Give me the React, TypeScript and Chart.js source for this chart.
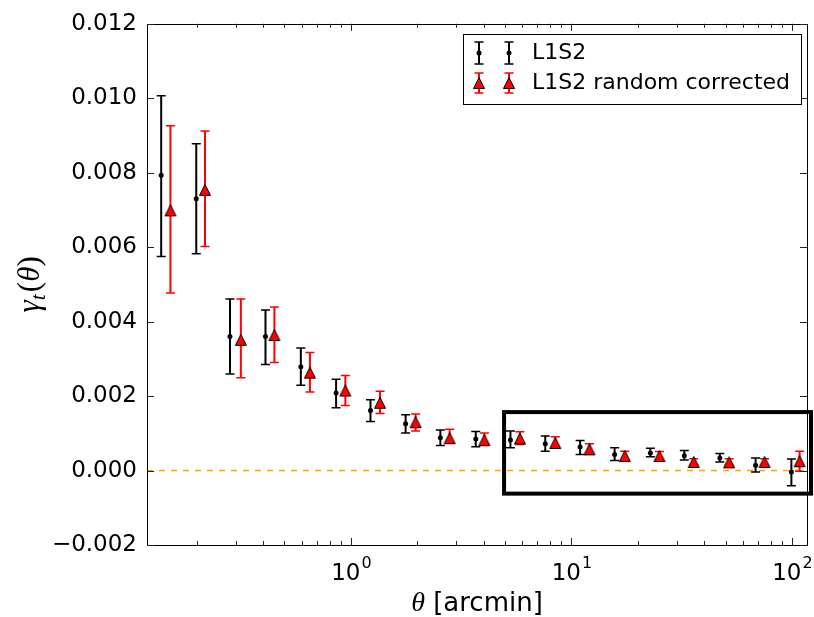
import React, { useEffect, useRef } from "react";
import { Chart, registerables } from "chart.js";
Chart.register(...registerables);

// L1S2 (black)
const blackTheta = [0.138, 0.199, 0.283, 0.41, 0.593, 0.857, 1.227, 1.771, 2.545, 3.683, 5.29, 7.61, 10.95, 15.7, 22.8, 32.5, 47.1, 68.4, 99.4];
const blackGamma = [0.00793, 0.0073, 0.0036, 0.0036, 0.00279, 0.00208, 0.00161, 0.00126, 0.00088, 0.00085, 0.00082, 0.00072, 0.00063, 0.00043, 0.00047, 0.0004, 0.00034, 0.00014, -0.00004];
const blackHigh = [0.01007, 0.00878, 0.00461, 0.00431, 0.00329, 0.00245, 0.0019, 0.0015, 0.00109, 0.00105, 0.00106, 0.00093, 0.00081, 0.00061, 0.0006, 0.00054, 0.00046, 0.00034, 0.00031];
const blackLow = [0.00575, 0.00582, 0.00259, 0.00285, 0.00229, 0.00169, 0.00132, 0.00101, 0.00067, 0.00064, 0.00061, 0.00052, 0.00043, 0.00027, 0.00037, 0.00028, 0.00023, -0.00004, -0.00041];

// L1S2 random corrected (red)
const redTheta = [0.152, 0.218, 0.317, 0.45, 0.652, 0.944, 1.356, 1.965, 2.804, 4.03, 5.84, 8.45, 12.07, 17.46, 25.08, 35.85, 51.9, 75.1, 108.3];
const redGamma = [0.00699, 0.00754, 0.00351, 0.00364, 0.00263, 0.00215, 0.00182, 0.0013, 0.00087, 0.00082, 0.00086, 0.00074, 0.00057, 0.00039, 0.00039, 0.00023, 0.00022, 0.00023, 0.00025];
const redHigh = [0.00926, 0.00912, 0.00461, 0.00439, 0.00317, 0.00255, 0.00213, 0.00152, 0.00111, 0.00101, 0.00104, 0.00091, 0.00072, 0.00052, 0.00051, 0.00032, 0.00032, 0.00032, 0.00052];
const redLow = [0.00477, 0.00602, 0.00249, 0.0029, 0.00211, 0.00175, 0.00153, 0.00106, 0.00073, 0.00067, 0.0007, 0.00061, 0.00045, 0.00029, 0.00029, 0.00014, 0.00014, 0.00014, -0.00002];

const seriesNames = ["L1S2", "L1S2 random corrected"];
const xRange = [0.119, 117];
const yRange = [-0.002, 0.012];
const yStep = 0.002;
const xMajorTicks = [1, 10, 100];
const xMajorExponents = ["0", "1", "2"];
const boxX = [4.95, 122];
const boxY = [-0.00062, 0.00157];
const zeroLine = 0;

const SANS = "'DejaVu Sans', sans-serif";
const SERIF = "'Liberation Serif', 'DejaVu Serif', serif";

function makeTriangle(): HTMLCanvasElement {
  const c = document.createElement("canvas");
  c.width = 14;
  c.height = 14;
  const t = c.getContext("2d")!;
  t.beginPath();
  t.moveTo(7, 1.5);
  t.lineTo(12.5, 12.5);
  t.lineTo(1.5, 12.5);
  t.closePath();
  t.fillStyle = "#ff0000";
  t.fill();
  t.lineWidth = 1;
  t.strokeStyle = "#000000";
  t.stroke();
  return c;
}

function drawErrBar(ctx: CanvasRenderingContext2D, px: number, y1: number, y2: number, color: string) {
  ctx.save();
  ctx.strokeStyle = color;
  ctx.lineWidth = 2;
  ctx.beginPath();
  ctx.moveTo(px, y1);
  ctx.lineTo(px, y2);
  ctx.stroke();
  ctx.lineWidth = 1.5;
  ctx.beginPath();
  ctx.moveTo(px - 4.5, y1);
  ctx.lineTo(px + 4.5, y1);
  ctx.moveTo(px - 4.5, y2);
  ctx.lineTo(px + 4.5, y2);
  ctx.stroke();
  ctx.restore();
}

export default function App() {
  const ref = useRef<HTMLCanvasElement>(null);

  useEffect(() => {
    const canvas = ref.current!;
    const tri = makeTriangle();

    const errPlugin = {
      id: "errbars",
      beforeDatasetsDraw(chart: any) {
        const ctx = chart.ctx;
        const ys = chart.scales.y;
        const py = ys.getPixelForValue(zeroLine);
        ctx.save();
        ctx.strokeStyle = "#ffa500";
        ctx.lineWidth = 1.5;
        ctx.setLineDash([6, 6]);
        ctx.beginPath();
        ctx.moveTo(chart.chartArea.left, py);
        ctx.lineTo(chart.chartArea.right, py);
        ctx.stroke();
        ctx.restore();
      },
      beforeDatasetDraw(chart: any, args: any) {
        const ctx = chart.ctx;
        const xs = chart.scales.x;
        const ys = chart.scales.y;
        const set = args.index === 0
          ? { t: blackTheta, lo: blackLow, hi: blackHigh, c: "#000000" }
          : { t: redTheta, lo: redLow, hi: redHigh, c: "#ff0000" };
        for (let i = 0; i < set.t.length; i++) {
          const px = xs.getPixelForValue(set.t[i]);
          drawErrBar(ctx, px, ys.getPixelForValue(set.lo[i]), ys.getPixelForValue(set.hi[i]), set.c);
        }
      },
      afterDatasetsDraw(chart: any) {
        const ctx = chart.ctx;
        const xs = chart.scales.x;
        const ys = chart.scales.y;
        const a = chart.chartArea;
        // frame
        ctx.save();
        ctx.strokeStyle = "#000";
        ctx.lineWidth = 1;
        ctx.strokeRect(Math.round(a.left) + 0.5, Math.round(a.top) + 0.5, Math.round(a.right - a.left), Math.round(a.bottom - a.top));
        // y ticks
        ctx.strokeStyle = "#222";
        for (let v = yRange[0]; v <= yRange[1] + 1e-9; v += yStep) {
          const py = Math.round(ys.getPixelForValue(v)) + 0.5;
          ctx.beginPath();
          ctx.moveTo(a.left, py);
          ctx.lineTo(a.left + 7, py);
          ctx.moveTo(a.right, py);
          ctx.lineTo(a.right - 7, py);
          ctx.stroke();
        }
        // x ticks (major + minor)
        for (let d = -1; d <= 2; d++) {
          for (let k = 1; k <= 9; k++) {
            const v = k * Math.pow(10, d);
            if (v < xRange[0] || v > xRange[1]) continue;
            const len = k === 1 ? 7 : 4;
            const px = Math.round(xs.getPixelForValue(v)) + 0.5;
            ctx.beginPath();
            ctx.moveTo(px, a.bottom);
            ctx.lineTo(px, a.bottom - len);
            ctx.moveTo(px, a.top);
            ctx.lineTo(px, a.top + len);
            ctx.stroke();
          }
        }
        // highlight box
        ctx.strokeStyle = "#000";
        ctx.lineWidth = 4;
        const bx1 = xs.getPixelForValue(boxX[0]);
        const bx2 = xs.getPixelForValue(boxX[1]);
        const by1 = ys.getPixelForValue(boxY[1]);
        const by2 = ys.getPixelForValue(boxY[0]);
        ctx.strokeRect(bx1, by1, bx2 - bx1, by2 - by1);
        ctx.restore();

        // x tick labels
        ctx.save();
        ctx.fillStyle = "#000";
        ctx.textBaseline = "alphabetic";
        for (let i = 0; i < xMajorTicks.length; i++) {
          const px = xs.getPixelForValue(xMajorTicks[i]);
          ctx.font = `23px ${SANS}`;
          const w1 = ctx.measureText("10").width;
          ctx.font = `16px ${SANS}`;
          const w2 = ctx.measureText(xMajorExponents[i]).width;
          const x0 = px - (w1 + w2) / 2;
          ctx.font = `23px ${SANS}`;
          ctx.textAlign = "left";
          ctx.fillText("10", x0, 580);
          ctx.font = `16px ${SANS}`;
          ctx.fillText(xMajorExponents[i], x0 + w1 + 1, 568);
        }
        // x title
        ctx.font = `italic 28px ${SERIF}`;
        const wt = ctx.measureText("θ").width;
        ctx.font = `26px ${SANS}`;
        const wr = ctx.measureText(" [arcmin]").width;
        const cx = (a.left + a.right) / 2;
        const sx = cx - (wt + wr) / 2;
        ctx.font = `italic 28px ${SERIF}`;
        ctx.fillText("θ", sx, 611);
        ctx.font = `26px ${SANS}`;
        ctx.fillText(" [arcmin]", sx + wt, 611);

        // y title (rotated)
        ctx.translate(39, (a.top + a.bottom) / 2);
        ctx.rotate(-Math.PI / 2);
        const F = 31;
        ctx.font = `italic ${F}px ${SERIF}`;
        const g = ctx.measureText("γ").width;
        ctx.font = `italic ${Math.round(F * 0.7)}px ${SERIF}`;
        const tw = ctx.measureText("t").width;
        ctx.font = `${F}px ${SERIF}`;
        const p1 = ctx.measureText("(").width;
        ctx.font = `italic ${F}px ${SERIF}`;
        const th = ctx.measureText("θ").width;
        ctx.font = `${F}px ${SERIF}`;
        const p2 = ctx.measureText(")").width;
        const total = g + tw + p1 + th + p2 + 2;
        let x = -total / 2;
        ctx.font = `italic ${F}px ${SERIF}`;
        ctx.fillText("γ", x, 0);
        x += g;
        ctx.font = `italic ${Math.round(F * 0.7)}px ${SERIF}`;
        ctx.fillText("t", x, 6);
        x += tw + 2;
        ctx.font = `${F}px ${SERIF}`;
        ctx.fillText("(", x, 0);
        x += p1;
        ctx.font = `italic ${F}px ${SERIF}`;
        ctx.fillText("θ", x, 0);
        x += th;
        ctx.font = `${F}px ${SERIF}`;
        ctx.fillText(")", x, 0);
        ctx.restore();
      },
      afterDraw(chart: any) {
        const ctx = chart.ctx;
        // legend
        ctx.save();
        ctx.fillStyle = "#fff";
        ctx.fillRect(463, 34, 338, 70);
        ctx.strokeStyle = "#000";
        ctx.lineWidth = 1;
        ctx.strokeRect(463.5, 34.5, 338, 70);
        const rows = [53, 83];
        const mx = [479, 509];
        for (const m of mx) {
          drawErrBar(ctx, m, rows[0] - 11, rows[0] + 11, "#000");
          ctx.fillStyle = "#000";
          ctx.beginPath();
          ctx.arc(m, rows[0], 2.5, 0, Math.PI * 2);
          ctx.fill();
          drawErrBar(ctx, m, rows[1] - 10, rows[1] + 10, "#ff0000");
          ctx.drawImage(tri, m - 7, rows[1] - 7);
        }
        ctx.fillStyle = "#000";
        ctx.font = `22px ${SANS}`;
        ctx.textBaseline = "middle";
        ctx.textAlign = "left";
        ctx.fillText(seriesNames[0], 532, rows[0]);
        ctx.fillText(seriesNames[1], 532, rows[1]);
        ctx.restore();
      },
    };

    const chart = new Chart(canvas, {
      type: "scatter",
      data: {
        datasets: [
          {
            label: seriesNames[0],
            data: blackTheta.map((t, i) => ({ x: t, y: blackGamma[i] })),
            pointStyle: "circle",
            pointRadius: 2.5,
            pointBackgroundColor: "#000",
            pointBorderColor: "#000",
            pointBorderWidth: 0,
            order: 1,
          },
          {
            label: seriesNames[1],
            data: redTheta.map((t, i) => ({ x: t, y: redGamma[i] })),
            pointStyle: tri as any,
            pointRadius: 6,
            order: 0,
          },
        ],
      },
      options: {
        animation: false,
        responsive: false,
        devicePixelRatio: 1,
        layout: { padding: { top: 22, right: 2, left: 0, bottom: 0 } },
        plugins: { legend: { display: false }, tooltip: { enabled: false } },
        scales: {
          x: {
            type: "logarithmic",
            min: xRange[0],
            max: xRange[1],
            grid: { display: false, drawTicks: false },
            border: { display: false },
            ticks: { display: false },
            afterFit: (s: any) => {
              s.height = 72;
            },
          },
          y: {
            type: "linear",
            min: yRange[0],
            max: yRange[1],
            grid: { display: false, drawTicks: false },
            border: { display: false },
            ticks: {
              stepSize: yStep,
              color: "#000",
              padding: 10,
              font: { family: "'DejaVu Sans', sans-serif", size: 23 },
              callback: (v: any) => {
                const n = Number(v);
                const s = Math.abs(n).toFixed(3);
                return n < -1e-9 ? "\u2212" + s : s;
              },
            },
            afterFit: (s: any) => {
              s.width = 147;
            },
          },
        },
      },
      plugins: [errPlugin],
    } as any);

    return () => chart.destroy();
  }, []);

  return (
    <div style={{ position: "absolute", left: 0, top: 0, width: 814, height: 617, background: "#fff" }}>
      <canvas ref={ref} width={814} height={617} style={{ display: "block" }} />
    </div>
  );
}
